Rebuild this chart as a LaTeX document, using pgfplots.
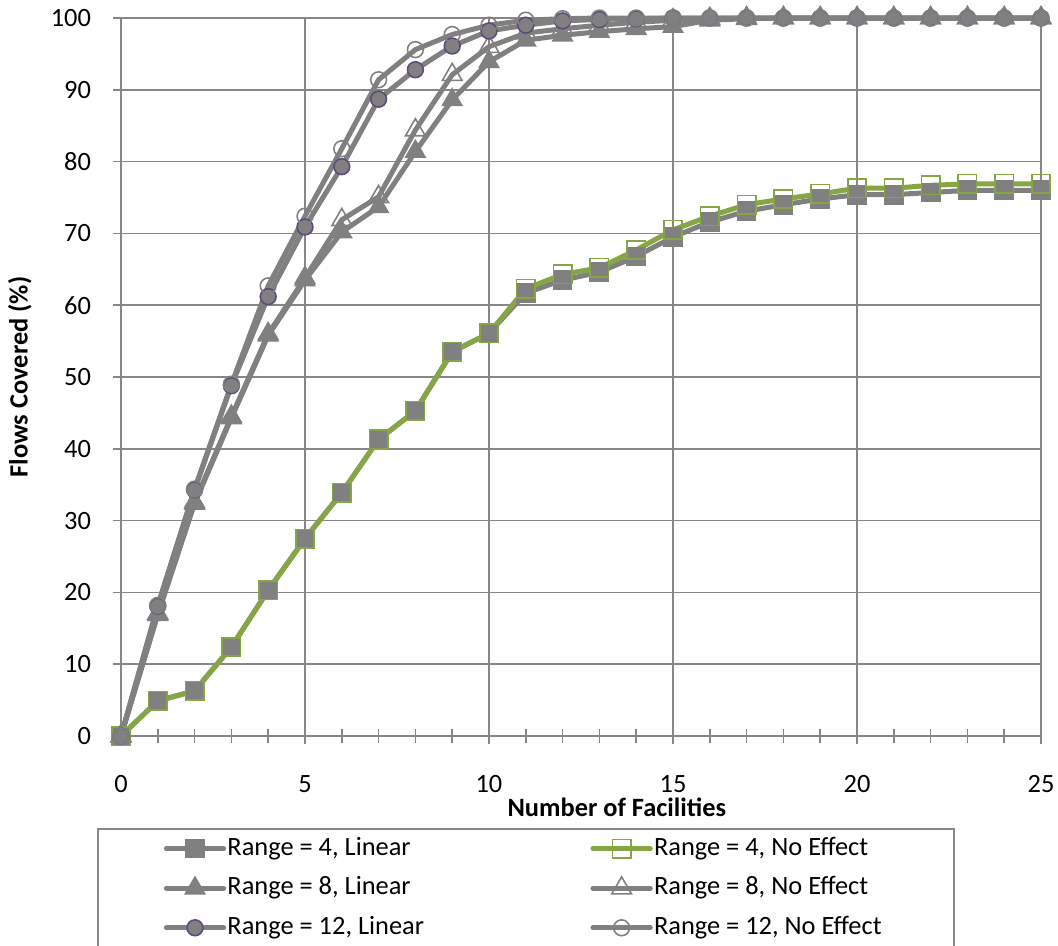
\documentclass[border=0pt]{standalone}
\usepackage{pgfplots}
\usepackage{pgfplotstable}
\pgfplotsset{compat=1.18}
\usepackage{fontspec}
\setmainfont{Carlito}
\definecolor{lgray}{HTML}{808080}
\definecolor{agray}{HTML}{878787}
\definecolor{lgreen}{HTML}{86A544}
\definecolor{cpurple}{HTML}{604A7B}

\pgfplotstableread{
x r4l r4n r8l r8n r12l r12n
0 0 0 0 0 0 0
1 4.9 4.9 16.9 17.1 18.1 18.2
2 6.3 6.3 32.4 32.6 34.3 34.4
3 12.4 12.4 44.3 44.5 48.8 49.0
4 20.3 20.3 55.8 56.0 61.2 62.7
5 27.5 27.5 63.5 63.8 70.9 72.4
6 33.9 33.9 70.2 71.9 79.3 81.8
7 41.3 41.3 73.7 75.1 88.7 91.4
8 45.3 45.3 81.4 84.4 92.8 95.6
9 53.5 53.5 88.6 92.1 96.1 97.7
10 56.1 56.1 93.9 96.0 98.2 99.0
11 61.7 62.3 96.9 97.9 99.0 99.7
12 63.5 64.3 97.6 98.5 99.6 99.9
13 64.6 65.2 98.1 99.0 99.8 100
14 66.8 67.7 98.5 99.4 99.9 100
15 69.5 70.5 98.8 99.7 100 100
16 71.6 72.4 99.7 99.9 100 100
17 73.1 74.0 99.9 100 100 100
18 74.0 74.8 100 100 100 100
19 74.8 75.5 100 100 100 100
20 75.4 76.3 100 100 100 100
21 75.4 76.3 100 100 100 100
22 75.7 76.7 100 100 100 100
23 76.0 76.9 100 100 100 100
24 76.0 76.9 100 100 100 100
25 76.0 76.9 100 100 100 100
}\datatable

\begin{document}
\begin{tikzpicture}
\begin{axis}[
  scale only axis, width=348.5pt, height=272pt,
  xmin=0, xmax=25, ymin=0, ymax=100,
  xtick={0,5,...,25}, minor x tick num=4,
  ytick={0,10,...,100},
  tick pos=left,
  grid=major, major grid style={agray, line width=0.6pt},
  axis line style={agray, line width=0.6pt},
  every tick/.style={agray, line width=0.6pt},
  tick align=center, major tick length=5.7pt, minor tick length=5pt,
  /pgf/number format/assume math mode=true,
  ticklabel style={font=\fontsize{10}{12}\selectfont, black},
  xticklabel style={yshift=-8.5pt},
  yticklabel style={xshift=-5pt},
  xlabel={Number of Facilities},
  ylabel={Flows Covered (\%)},
  xlabel style={at={(axis description cs:0.539,-0.099)}, anchor=center, font=\fontsize{10}{12}\selectfont\bfseries},
  ylabel style={at={(axis description cs:-0.110,0.5)}, anchor=center, font=\fontsize{10}{12}\selectfont\bfseries},
  clip=false,
  legend columns=2,
  legend cell align=left,
  legend image code/.code={\draw[line cap=round, mark repeat=2,mark phase=2] plot coordinates {(1pt,0pt) (11.85pt,0pt) (22.7pt,0pt)};},
  legend style={at={(axis description cs:-0.026,-0.128)}, anchor=north west,
    draw=agray, line width=0.6pt, font=\fontsize{10}{12}\selectfont,
    inner xsep=25pt, inner ysep=0pt,
    nodes={inner xsep=0.5pt, inner ysep=3pt, text height=7pt, text depth=2pt},
    /tikz/every even column/.append style={column sep=0pt}},
]
\addplot[lgray, line width=1.9pt, mark=square*, mark size=3.5pt, mark options={fill=lgray, draw=lgray, line width=0.5pt}] table[x=x,y=r4l] {\datatable};
\addlegendentry{\makebox[137pt][l]{Range = 4, Linear}}
\addplot[lgreen, line width=1.9pt, mark=square, mark size=3.5pt, mark options={draw=lgreen, line width=0.6pt}] table[x=x,y=r4n] {\datatable};
\addlegendentry{\makebox[88pt][l]{Range = 4, No Effect}}
\addplot[lgray, line width=1.9pt, mark=triangle*, mark size=4.3pt, mark options={fill=lgray, draw=lgray, line width=0.5pt}] table[x=x,y=r8l] {\datatable};
\addlegendentry{Range = 8, Linear}
\addplot[lgray, line width=1.9pt, mark=triangle, mark size=4.3pt, mark options={draw=lgray, line width=0.6pt}] table[x=x,y=r8n] {\datatable};
\addlegendentry{Range = 8, No Effect}
\addplot[lgray, line width=1.9pt, mark=*, mark size=3pt, mark options={fill=lgray, draw=cpurple, line width=0.6pt}] table[x=x,y=r12l] {\datatable};
\addlegendentry{Range = 12, Linear}
\addplot[lgray, line width=1.9pt, mark=o, mark size=3pt, mark options={draw=lgray, line width=0.6pt}] table[x=x,y=r12n] {\datatable};
\addlegendentry{Range = 12, No Effect}
\coordinate (bbl) at (rel axis cs:-0.1315,-0.2911);
\coordinate (btr) at (rel axis cs:1.0185,1.0251);
\end{axis}
\pgfresetboundingbox
\path (bbl) rectangle (btr);
\end{tikzpicture}
\end{document}
